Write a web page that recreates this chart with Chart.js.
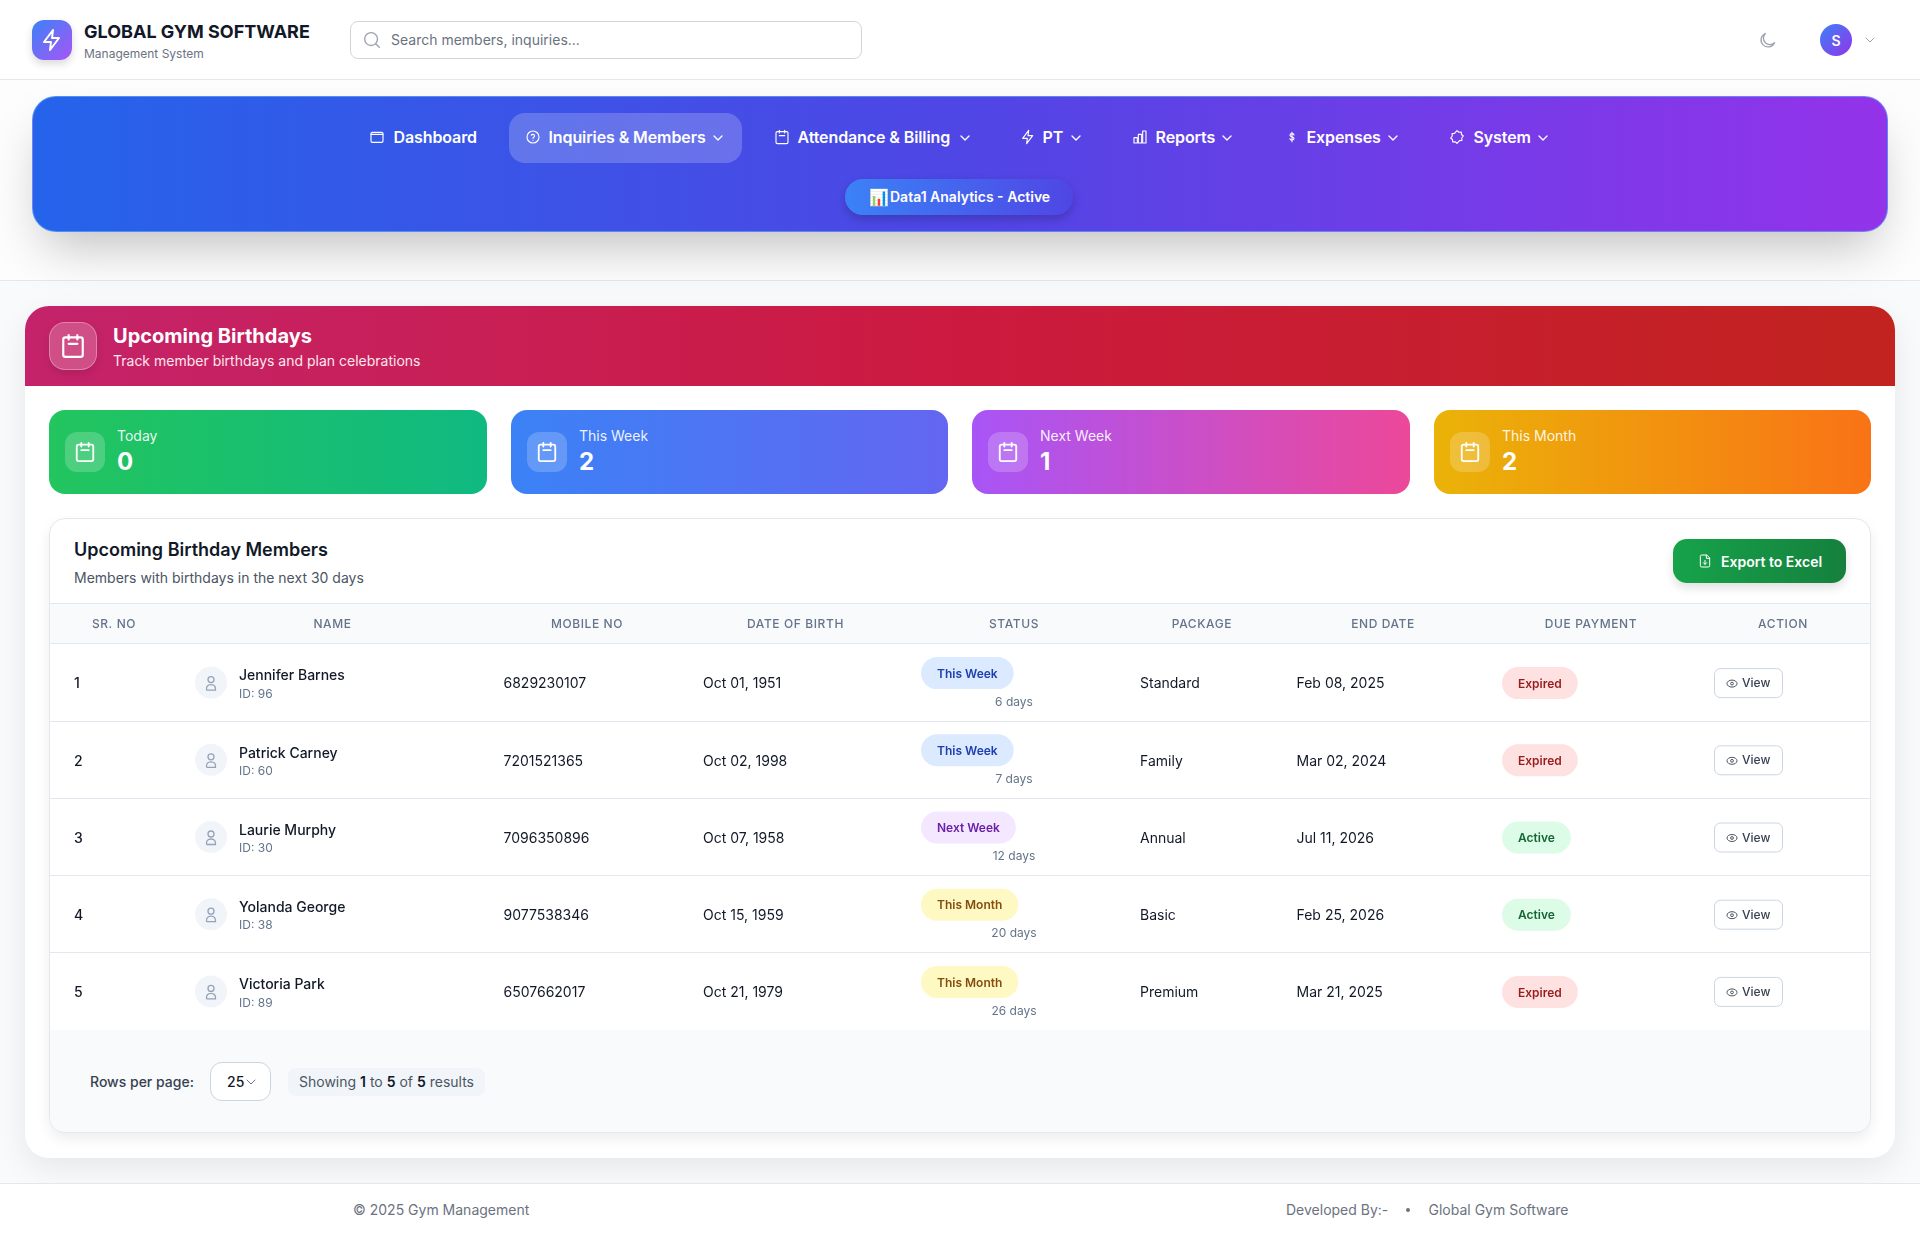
<!DOCTYPE html>
<html>
<head>
<meta charset="utf-8">
<script src="https://cdn.jsdelivr.net/npm/chart.js@4"></script>
<style>
* { box-sizing: border-box; }
html, body { margin: 0; padding: 0; }
body { width: 1920px; height: 1235px; position: relative; overflow: hidden; background: #f9fafb; font-family: Inter, sans-serif; color: #111827; }
.abs, .abs-c { position: absolute; white-space: nowrap; }
.abs-c { display: flex; align-items: center; justify-content: center; }
svg { display: block; fill: none; stroke: currentColor; stroke-width: 2; stroke-linecap: round; stroke-linejoin: round; }
canvas { position: absolute; display: block; }
b { font-weight: 600; color: #111827; }
</style>
</head>
<body>
<div id="page"></div>
<canvas id="memberChart" width="1820" height="427" style="left:50px;top:603px;width:1820px;height:427px"></canvas>
<script>
// table
const srNumbers = ['1', '2', '3', '4', '5'];
const memberNames = ['Jennifer Barnes', 'Patrick Carney', 'Laurie Murphy', 'Yolanda George', 'Victoria Park'];
const memberIds = [96, 60, 30, 38, 89];
const mobileNumbers = ['6829230107', '7201521365', '7096350896', '9077538346', '6507662017'];
const birthDates = ['Oct 01, 1951', 'Oct 02, 1998', 'Oct 07, 1958', 'Oct 15, 1959', 'Oct 21, 1979'];
const statusLabels = ['This Week', 'This Week', 'Next Week', 'This Month', 'This Month'];
const statusDays = [6, 7, 12, 20, 26];
const packages = ['Standard', 'Family', 'Annual', 'Basic', 'Premium'];
const endDates = ['Feb 08, 2025', 'Mar 02, 2024', 'Jul 11, 2026', 'Feb 25, 2026', 'Mar 21, 2025'];
const paymentStates = ['Expired', 'Expired', 'Active', 'Active', 'Expired'];
const columnTitles = ['SR. NO', 'NAME', 'MOBILE NO', 'DATE OF BIRTH', 'STATUS', 'PACKAGE', 'END DATE', 'DUE PAYMENT', 'ACTION'];

// summary cards
const statLabels = ['Today', 'This Week', 'Next Week', 'This Month'];
const statValues = [0, 2, 1, 2];

// nav
const navLabels = ['Dashboard', 'Inquiries & Members', 'Attendance & Billing', 'PT', 'Reports', 'Expenses', 'System'];

// x positions on the table axis (table pixels)
const headerCentres = [64, 282.5, 537, 745.5, 964, 1152, 1333, 1541, 1733];
const cellStart = { name: 189, avatar: 161, mobile: 453.5, dob: 653, status: 871, days: 964, pack: 1090, end: 1246.5, due: 1452, view: 1664 };

const statusColors = { 'This Week': ['#dbeafe', '#1e40af'], 'Next Week': ['#f3e8ff', '#6b21a8'], 'This Month': ['#fef9c3', '#854d0e'] };
const paymentColors = { Expired: ['#fee2e2', '#991b1b'], Active: ['#dcfce7', '#166534'] };

const icons = {
    calendar: '<rect x="3" y="4" width="18" height="18" rx="2"/><path d="M8 2v4M16 2v4M8 10h8"/>',
    bolt: '<path d="M13 2 4 14h7l-1 8 9-12h-7z"/>',
    search: '<circle cx="11" cy="11" r="7"/><path d="m20 20-4-4"/>',
    chevron: '<path d="m6 9 6 6 6-6"/>',
    moon: '<path d="M20 14.5A8 8 0 1 1 9.5 4a6.5 6.5 0 0 0 10.5 10.5z"/>',
    folder: '<rect x="3" y="5" width="18" height="15" rx="2"/><path d="M3 8h18"/>',
    help: '<circle cx="12" cy="12" r="9"/><path d="M9.5 9.500a2.500 2.500 0 0 1 4.800 1c0 1.500-2.300 2-2.300 3.500M12 17h.01"/>',
    bars: '<rect x="3" y="13" width="5" height="8"/><rect x="9.500" y="8" width="5" height="13"/><rect x="16" y="3" width="5" height="18"/>',
    dollar: '<path d="M15 9c0-1.500-1.400-2-3-2s-3 .7-3 2.300c0 3.200 6 1.800 6 5 0 1.500-1.400 2.200-3 2.200s-3-.7-3-2M12 5v14"/>',
    gear: '<path d="m12 2.500 2.800 2.400 3.600-.3.300 3.600 2.800 2.300-2.400 3 .3 3.600-3.600.3L12 21.500l-2.800-2.400-3.600.3-.3-3.600-2.800-2.300 2.400-3-.3-3.600 3.600-.3z"/>',
    file: '<path d="M14 3H7a2 2 0 0 0-2 2v14a2 2 0 0 0 2 2h10a2 2 0 0 0 2-2V8z"/><path d="M14 3v5h5M12 11v6M9.500 14.500 12 17l2.500-2.500"/>'
};

const page = document.getElementById('page');

function box(left, top, width, height, style, html) {
    const d = document.createElement('div');
    d.className = 'abs-c';
    d.style.cssText = `left:${left}px;top:${top}px;width:${width}px;height:${height}px;${style || ''}`;
    d.innerHTML = html || '';
    page.appendChild(d);
    return d;
}

// text with its vertical centre at y
function label(left, y, text, style) {
    const d = document.createElement('div');
    d.className = 'abs';
    d.style.cssText = `left:${left}px;top:${y - 15}px;line-height:30px;${style || ''}`;
    d.innerHTML = text;
    page.appendChild(d);
    return d;
}

function icon(name, left, top, size, color, sw) {
    const svg = `<svg width="${size}" height="${size}" viewBox="0 0 24 24" style="stroke-width:${sw || 2}">${icons[name]}</svg>`;
    return box(left, top, size, size, `color:${color}`, svg);
}

// top bar
box(0, 0, 1920, 80, 'background:#fff;border-bottom:1px solid #e5e7eb');
box(32, 20, 40, 40, 'border-radius:12px;background:linear-gradient(135deg,#3b82f6,#a855f7);box-shadow:0 4px 8px rgba(0,0,0,.15)');
icon('bolt', 40, 28, 24, '#fff');
label(84, 32, 'GLOBAL GYM SOFTWARE', 'font-size:18px;font-weight:700;color:#111827');
label(84, 54, 'Management System', 'font-size:12px;color:#6b7280');
box(350, 21, 512, 38, 'background:#fff;border:1px solid #d1d5db;border-radius:8px');
icon('search', 361, 29, 22, '#9ca3af', 1.5);
label(391, 40, 'Search members, inquiries...', 'font-size:14px;color:#6b7280');
icon('moon', 1757, 30, 21, '#9ca3af', 1.5);
box(1820, 24, 32, 32, 'border-radius:50%;background:linear-gradient(135deg,#3b82f6,#9333ea);color:#fff;font-size:14px;font-weight:600', 'S');
icon('chevron', 1862, 32, 16, '#9ca3af', 1.5);

// nav band
box(0, 80, 1920, 201, 'background:#fdfdfd;border-bottom:1px solid #e5e7eb');
box(32, 96, 1856, 136, 'border-radius:24px;background:linear-gradient(to right,#2563eb,#4f46e5,#9333ea);border:1px solid rgba(96,165,250,.7);box-shadow:0 25px 50px -12px rgba(0,0,0,.25)');
box(509, 113, 233, 50, 'border-radius:16px;background:rgba(255,255,255,.2)');
const navX = [394, 549, 798, 1043, 1156, 1307, 1474];
const navIconX = [369, 525, 774, 1020, 1132, 1284, 1449];
const navIcons = ['folder', 'help', 'calendar', 'bolt', 'bars', 'dollar', 'gear'];
const navChevronX = [0, 710, 957, 1068, 1219, 1385, 1535];
navLabels.forEach((name, i) => {
    label(navX[i] - 0.5, 137, name.replace('&', '&amp;'), 'font-size:16px;font-weight:600;letter-spacing:-0.1px;color:#fff');
    icon(navIcons[i], navIconX[i], 129, 16, '#fff', 1.7);
    if (i > 0) icon('chevron', navChevronX[i], 130, 16, '#fff', 2);
});
box(845, 179, 228, 36, 'border-radius:18px;background:linear-gradient(to right,#3b82f6,#4f46e5);box-shadow:0 4px 10px rgba(0,0,0,.2)');
label(869, 197, '📊', 'font-size:16px;color:#fff');
label(890, 197, 'Data1 Analytics - Active', 'font-size:14px;font-weight:600;color:#fff');

// main card
box(25, 306, 1870, 852, 'background:#fff;border-radius:24px;box-shadow:0 10px 30px rgba(0,0,0,.08)');
box(25, 306, 1870, 80, 'border-radius:24px 24px 0 0;background:linear-gradient(to right,#c4236b,#cc1a3f,#c2231f)');
box(49, 322, 48, 48, 'border-radius:16px;background:rgba(255,255,255,.2);border:1px solid rgba(255,255,255,.3);box-shadow:0 4px 8px rgba(0,0,0,.1)');
icon('calendar', 60, 333, 26, '#fff');
label(113, 336, 'Upcoming Birthdays', 'font-size:20px;font-weight:700;color:#fff');
label(113, 360.5, 'Track member birthdays and plan celebrations', 'font-size:14px;color:#fde7ef');

// stat cards
const cardX = [49, 511, 972, 1434];
const cardW = [438, 437, 438, 437];
const cardFill = ['#22c55e,#10b981', '#3b82f6,#6366f1', '#a855f7,#ec4899', '#eab308,#f97316'];
statLabels.forEach((name, i) => {
    box(cardX[i], 410, cardW[i], 84, `border-radius:16px;background:linear-gradient(to right,${cardFill[i]})`);
    box(cardX[i] + 16, 432, 40, 40, 'border-radius:12px;background:rgba(255,255,255,.2)');
    icon('calendar', cardX[i] + 25, 441, 22, '#fff');
    label(cardX[i] + 68, 436, name, 'font-size:14px;color:rgba(255,255,255,.92)');
    label(cardX[i] + 68, 462, statValues[i], 'font-size:24px;font-weight:700;color:#fff');
});

// table card
box(49, 518, 1822, 615, 'background:#fff;border:1px solid #e5e7eb;border-radius:16px;box-shadow:0 6px 14px rgba(0,0,0,.07)');
label(74, 550, 'Upcoming Birthday Members', 'font-size:18px;font-weight:600;color:#111827');
label(74, 578, 'Members with birthdays in the next 30 days', 'font-size:14px;color:#4b5563');
box(1673, 539, 173, 44, 'border-radius:14px;background:linear-gradient(to right,#16a34a,#15803d);box-shadow:0 5px 10px rgba(0,0,0,.12)');
icon('file', 1697, 553, 16, '#fff', 1.5);
label(1721, 562, 'Export to Excel', 'font-size:14px;font-weight:600;color:#fff');
box(50, 1030, 1820, 102, 'background:#f9fafb;border-radius:0 0 15px 15px');
label(90, 1082, 'Rows per page:', 'font-size:14px;font-weight:500;color:#374151');
box(210, 1062, 61, 39, 'background:#fff;border:1px solid #cbd5e1;border-radius:12px');
label(227, 1082, '25', 'font-size:14px;font-weight:500;color:#111827');
icon('chevron', 243, 1074, 16, '#6b7280', 1.5);
box(288, 1068, 197, 28, 'background:#f1f5f9;border-radius:8px');
label(299, 1082, 'Showing <b>1</b> to <b>5</b> of <b>5</b> results', 'font-size:14px;color:#4b5563');

// page footer
box(0, 1183, 1920, 52, 'background:#fff;border-top:1px solid #e5e7eb');
label(353, 1210, '© 2025 Gym Management', 'font-size:14px;color:#6b7280');
label(1286, 1210, 'Developed By:-', 'font-size:14px;color:#6b7280');
box(1406, 1208, 4, 4, 'border-radius:50%;background:#6b7280');
label(1428.5, 1210, 'Global Gym Software', 'font-size:14px;color:#6b7280');

// draws everything in the table rows at the positions the chart's scales give
const cellPlugin = {
    id: 'cells',
    beforeDraw(chart) {
        const { ctx, width, chartArea } = chart;
        ctx.fillStyle = '#f9fafb';
        ctx.fillRect(0, 0, width, chartArea.top);
        ctx.fillStyle = '#e2e8f0';
        ctx.fillRect(0, 0, width, 1);
        ctx.letterSpacing = '0.6px';
    },
    beforeDatasetsDraw(chart) {
        chart.ctx.letterSpacing = '0px';
    },
    afterDatasetsDraw(chart) {
        const { ctx, scales } = chart;
        const xAt = key => scales.x.getPixelForValue(cellStart[key]);

        const text = (str, x, y, font, color, align) => {
            ctx.font = font;
            ctx.fillStyle = color;
            ctx.textAlign = align || 'left';
            ctx.textBaseline = 'middle';
            ctx.fillText(str, x, y);
        };
        const pill = (str, x, y, colors) => {
            ctx.font = '600 12px Inter';
            const w = ctx.measureText(str).width + 32;
            ctx.fillStyle = colors[0];
            ctx.beginPath();
            ctx.roundRect(x, y - 16, w, 32, 16);
            ctx.fill();
            text(str, x + w / 2, y + 1, '600 12px Inter', colors[1], 'center');
        };

        srNumbers.forEach((sr, i) => {
            const y = scales.y.getPixelForValue(i);
            const avatarX = xAt('avatar');

            // person glyph on the avatar point
            ctx.strokeStyle = '#94a3b8';
            ctx.lineWidth = 1.3;
            ctx.beginPath();
            ctx.arc(avatarX, y - 3, 3, 0, Math.PI * 2);
            ctx.stroke();
            ctx.beginPath();
            ctx.moveTo(avatarX - 4.5, y + 7.5);
            ctx.lineTo(avatarX + 4.5, y + 7.5);
            ctx.quadraticCurveTo(avatarX + 5, y + 2, avatarX, y + 2);
            ctx.quadraticCurveTo(avatarX - 5, y + 2, avatarX - 4.5, y + 7.5);
            ctx.stroke();

            text(memberNames[i], xAt('name'), y - 6.5, '500 14px Inter', '#111827');
            text('ID: ' + memberIds[i], xAt('name'), y + 11.5, '400 12px Inter', '#64748b');
            text(mobileNumbers[i], xAt('mobile'), y + 1.5, '400 14px Inter', '#111827');
            text(birthDates[i], xAt('dob'), y + 1.5, '400 14px Inter', '#111827');
            pill(statusLabels[i], xAt('status'), y - 9.5, statusColors[statusLabels[i]]);
            text(statusDays[i] + ' days', xAt('days'), y + 19.5, '400 12px Inter', '#64748b', 'center');
            text(packages[i], xAt('pack'), y + 1.5, '400 14px Inter', '#111827');
            text(endDates[i], xAt('end'), y + 1.5, '400 14px Inter', '#111827');
            pill(paymentStates[i], xAt('due'), y + 0.5, paymentColors[paymentStates[i]]);

            // view button
            const vx = xAt('view');
            ctx.fillStyle = '#fff';
            ctx.strokeStyle = '#cbd5e1';
            ctx.lineWidth = 1;
            ctx.beginPath();
            ctx.roundRect(vx + 0.5, y - 14, 68, 29, 6);
            ctx.fill();
            ctx.stroke();
            ctx.strokeStyle = '#4b5563';
            ctx.beginPath();
            ctx.ellipse(vx + 18, y + 1, 5, 3.5, 0, 0, Math.PI * 2);
            ctx.stroke();
            ctx.beginPath();
            ctx.arc(vx + 18, y + 1, 1.4, 0, Math.PI * 2);
            ctx.stroke();
            text('View', vx + 28, y + 1, '500 12px Inter', '#374151');
        });
    }
};

const ctx = document.getElementById('memberChart').getContext('2d');
const memberChart = new Chart(ctx, {
    type: 'scatter',
    data: {
        datasets: [{
            label: 'members',
            data: srNumbers.map(sr => ({ x: cellStart.avatar, y: sr })),
            pointRadius: 16,
            pointHoverRadius: 16,
            pointBackgroundColor: '#f1f5f9',
            pointBorderWidth: 0
        }]
    },
    plugins: [cellPlugin],
    options: {
        responsive: false,
        animation: false,
        devicePixelRatio: 1,
        layout: { autoPadding: false, padding: 0 },
        plugins: { legend: { display: false }, tooltip: { enabled: false } },
        scales: {
            x: {
                type: 'linear',
                position: 'top',
                min: 0,
                max: 1820,
                afterBuildTicks: scale => {
                    scale.ticks = headerCentres.map(value => ({ value }));
                },
                afterFit: scale => {
                    scale.height = 41;
                },
                grid: { display: false, drawTicks: false },
                border: { display: false },
                ticks: {
                    callback: (value, index) => columnTitles[index],
                    autoSkip: false,
                    maxRotation: 0,
                    padding: 12,
                    color: '#64748b',
                    font: { family: 'Inter', size: 12, weight: '500' }
                }
            },
            y: {
                type: 'category',
                labels: srNumbers,
                offset: true,
                afterFit: scale => {
                    // rows must fill the area right down to the last line
                    scale.width = 0;
                    scale.paddingTop = 0;
                    scale.paddingBottom = 0;
                },
                grid: { color: '#e2e8f0', offset: true, drawTicks: false },
                border: { display: false },
                ticks: {
                    mirror: true,
                    padding: 24,
                    labelOffset: 1.5,
                    color: '#111827',
                    font: { family: 'Inter', size: 14, weight: '500' }
                }
            }
        }
    }
});
</script>
</body>
</html>
